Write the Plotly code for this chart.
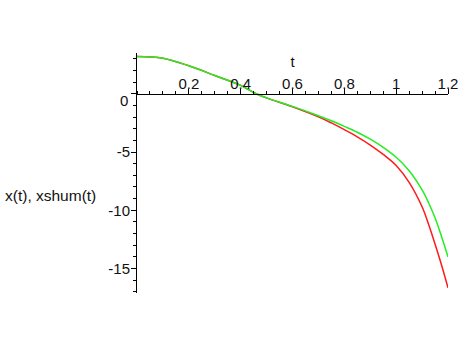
import plotly.graph_objects as go

# Data
t_values = [0, 0.1, 0.2, 0.3, 0.4, 0.46, 0.5, 0.6, 0.7, 0.75, 0.8, 0.85, 0.9, 0.95,
            1.0, 1.05, 1.1, 1.125, 1.15, 1.175, 1.2]
x_values = [3.2, 3.05, 2.4, 1.57, 0.72, 0.0, -0.35, -1.12, -1.98, -2.5, -3.08, -3.7,
            -4.4, -5.2, -6.15, -7.6, -9.7, -11.2, -12.9, -14.7, -16.65]
xshum_values = [3.2, 3.05, 2.4, 1.57, 0.72, 0.0, -0.35, -1.08, -1.88, -2.32, -2.8, -3.3,
                -3.9, -4.6, -5.45, -6.6, -8.25, -9.35, -10.65, -12.25, -14.0]

x_tickvals = [0.2, 0.4, 0.6, 0.8, 1.0, 1.2]
x_ticktext = ["0.2", "0.4", "0.6", "0.8", "1", "1.2"]
y_tickvals = [0, -5, -10, -15]
y_ticktext = ["", "-5", "-10", "-15"]
y_zero_label = "0"

x_range = [0, 1.2]
y_range = [-17.1, 3.5]

fig = go.Figure()
fig.add_trace(go.Scatter(x=t_values, y=x_values, mode="lines", name="x(t)",
                         line=dict(color="#ff1a1a", width=1.5, shape="spline")))
fig.add_trace(go.Scatter(x=t_values, y=xshum_values, mode="lines", name="xshum(t)",
                         line=dict(color="#22ee22", width=1.5, shape="spline")))

font = dict(family="Liberation Sans, Arial, sans-serif", size=15, color="#111")
label_font = dict(family="Liberation Sans, Arial, sans-serif", size=15.5, color="#111")

zero_pos = (0 - y_range[0]) / (y_range[1] - y_range[0])

fig.update_layout(
    width=464, height=347,
    margin=dict(l=137, r=16, t=53, b=54, autoexpand=False),
    paper_bgcolor="white", plot_bgcolor="white",
    showlegend=False,
    font=font,
    xaxis=dict(
        range=x_range, side="top", anchor="free", position=zero_pos,
        automargin=False,
        showgrid=False, zeroline=False, showline=True, linecolor="black", linewidth=1,
        tickvals=x_tickvals, ticktext=x_ticktext,
        ticks="outside", ticklen=5, tickcolor="black", tickwidth=1,
        ticklabelstandoff=-6,
        minor=dict(dtick=0.05, tick0=0, ticks="outside", ticklen=3, tickcolor="black"),
        title=dict(text="t", font=font, standoff=2),
        tickfont=font,
    ),
    yaxis=dict(
        range=y_range, automargin=False,
        showgrid=False, zeroline=False, showline=True, linecolor="black", linewidth=1,
        tickvals=y_tickvals, ticktext=y_ticktext,
        ticks="outside", ticklen=5, tickcolor="black", tickwidth=1,
        ticklabelstandoff=-2,
        minor=dict(dtick=1, tick0=0, ticks="outside", ticklen=3, tickcolor="black"),
        tickfont=font,
    ),
    annotations=[
        dict(text="x(t), xshum(t)", xref="paper", yref="paper",
             x=-0.431, y=0.408, xanchor="left", yanchor="middle",
             showarrow=False, font=label_font),
        dict(text=y_zero_label, xref="paper", yref="y",
             x=0, y=0, xanchor="right", yanchor="middle",
             xshift=-7, yshift=-7, showarrow=False, font=font),
    ],
)

fig.write_html(
    "out.html",
    config={"displayModeBar": False},
    post_script="document.body.style.margin='0';document.body.style.overflow='hidden';",
)
